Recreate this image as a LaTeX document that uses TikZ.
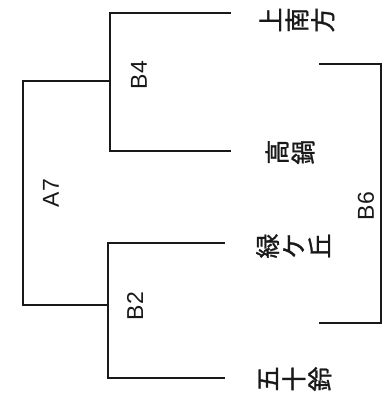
\documentclass[tikz,border=0pt]{standalone}
\usepackage{fontspec}
\setsansfont{Liberation Sans}
\newfontfamily\jpfont[FakeBold=1.2]{Noto Sans CJK JP}
\usetikzlibrary{positioning}

\begin{document}
\begin{tikzpicture}[x=1pt, y=-1pt]

\definecolor{my_black}{RGB}{25,25,25}

\tikzstyle{branch} = [draw=my_black, line width=2pt]
\tikzstyle{leaf} = [rotate=90, align=center, inner sep=0pt, text=my_black, font={\jpfont\fontsize{25}{26}\selectfont}]
\tikzstyle{cluster} = [rotate=90, inner sep=0pt, text=my_black, font={\sffamily\fontsize{23}{25}\selectfont}]

	\useasboundingbox (0,0) rectangle (383,399);

	% ends of the leaf lines
	\coordinate (e1) at (231,13);
	\coordinate (e2) at (231,151);
	\coordinate (e3) at (225,243);
	\coordinate (e4) at (225,378);

	% junctions
	\coordinate (b4) at (110,81);
	\coordinate (b2) at (108,305);
	\coordinate (a7) at (23,193);

	\coordinate (f1) at (319,64);
	\coordinate (f2) at (319,323);
	\coordinate (b6) at (381,193);

	\node [leaf] (kamiminamikata) at (297,20) {上\\南\\方};
	\node [leaf] (takanabe) at (290,152) {高\\鍋};
	\node [leaf] (midorigaoka) at (293,246) {緑\\ケ\\丘};
	\node [leaf] (isuzu) at (295,379) {五\\十\\鈴};

	\node [cluster] (lb4) at (139,75) {B4};
	\node [cluster] (la7) at (51,193) {A7};
	\node [cluster] (lb2) at (135,306) {B2};
	\node [cluster] (lb6) at (366,206) {B6};

	\path [branch] (e1) -| (b4) |- (e2);
	\path [branch] (e3) -| (b2) |- (e4);
	\path [branch] (b4) -| (a7) |- (b2);
	\path [branch] (f1) -| (b6) |- (f2);

\end{tikzpicture}
\end{document}
